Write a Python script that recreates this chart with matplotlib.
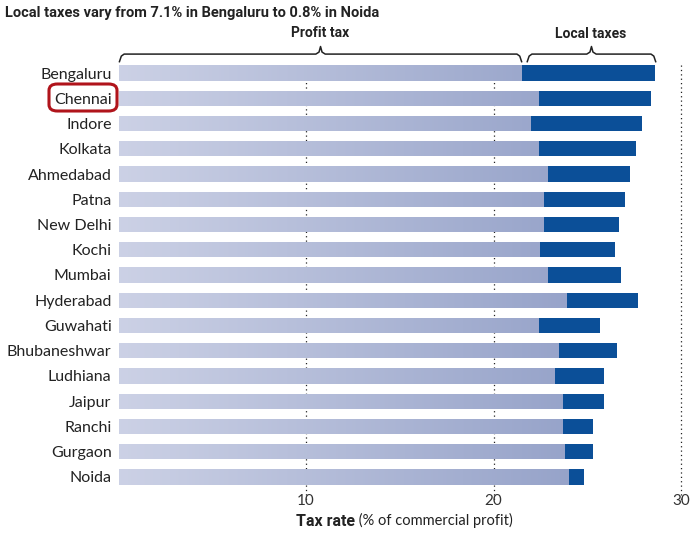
import matplotlib.pyplot as plt
import numpy as np
from matplotlib.patches import FancyBboxPatch

cities = ['Bengaluru', 'Chennai', 'Indore', 'Kolkata', 'Ahmedabad', 'Patna',
          'New Delhi', 'Kochi', 'Mumbai', 'Hyderabad', 'Guwahati', 'Bhubaneshwar',
          'Ludhiana', 'Jaipur', 'Ranchi', 'Gurgaon', 'Noida']
profit_tax = [21.5, 22.4, 22.0, 22.4, 22.9, 22.7, 22.7, 22.5, 22.9, 23.9,
              22.4, 23.5, 23.3, 23.7, 23.7, 23.8, 24.0]
local_tax = [7.1, 6.0, 5.9, 5.2, 4.4, 4.3, 4.0, 4.0, 3.9, 3.8,
             3.3, 3.1, 2.6, 2.2, 1.6, 1.5, 0.8]
xticks = [10, 20, 30]

fig = plt.figure(figsize=(6.96, 5.34), dpi=100)
W, H = 696, 534
ax = fig.add_axes([118.5 / W, 1 - 489.6 / H, (30.3 * 18.75) / W, (489.6 - 60.4) / H])

y = np.arange(len(cities))
light = np.array([0.80, 0.82, 0.90])
dark = np.array([0.59, 0.64, 0.79])
grad = np.linspace(0, 1, 256)
img = (light[None, :] * (1 - grad[:, None]) + dark[None, :] * grad[:, None])[None, :, :]

bars = ax.barh(y, profit_tax, height=0.6, color='none', edgecolor='none', zorder=2)
for b in bars:
    im = ax.imshow(img, extent=(0, 24, 16.5, -0.5), aspect='auto', zorder=2,
                   interpolation='bilinear')
    im.set_clip_path(b)
ax.barh(y, local_tax, left=profit_tax, height=0.6, color='#0b4f98', zorder=3)
ax.set_xlim(0, 30.3)
ax.set_ylim(16.5, -0.5)

for xv in xticks:
    ax.plot([xv, xv], [-0.3, 16.9], color='#222222', lw=0.9, ls=(0, (1, 2.5)),
            zorder=1, clip_on=False)

ax.set_yticks(y)
ax.set_yticklabels(cities, fontsize=11.5, color='#222222', family='Lato')
ax.set_xticks(xticks)
ax.set_xticklabels([str(v) for v in xticks], fontsize=11, color='#333333', family='Lato')
ax.tick_params(length=0, axis='y', pad=5)
ax.tick_params(length=0, axis='x', pad=3)
for s in ax.spines.values():
    s.set_visible(False)

# braces
def brace(x0, x1, yb):
    xm = (x0 + x1) / 2
    d = 0.25
    ax.plot([x0, x0 + 0.1, x0 + d, xm - d, xm - 0.08, xm, xm + 0.08, xm + d, x1 - d, x1 - 0.1, x1],
            [yb + 0.3, yb + 0.08, yb, yb, yb - 0.08, yb - 0.3, yb - 0.08, yb, yb, yb + 0.08, yb + 0.3],
            color='#222222', lw=1.1, clip_on=False)

brace(0.05, 21.5, -0.75)
brace(21.8, 28.65, -0.75)
ax.text(10.75, -1.3, 'Profit tax', ha='center', va='bottom', fontsize=10,
        fontweight='bold', family='Roboto', color='#222222')
ax.text(25.2, -1.25, 'Local taxes', ha='center', va='bottom', fontsize=10,
        fontweight='bold', family='Roboto', color='#222222')

fig.text(5 / W, 1 - 13 / H, 'Local taxes vary from 7.1% in Bengaluru to 0.8% in Noida',
         ha='left', va='center', fontsize=10.5, fontweight='bold',
         family='Roboto', color='#222222')

t1 = fig.text(296 / W, 1 - 521 / H, 'Tax rate', ha='left', va='center', fontsize=11.5,
              fontweight='bold', family='Roboto', color='#222222')
ax.annotate(' (% of commercial profit)', xy=(1, 0), xycoords=t1, ha='left', va='bottom',
            fontsize=10.5, family='Lato', color='#222222')

box = FancyBboxPatch((49 / W, 1 - 111 / H), 68 / W, 27 / H,
                     boxstyle='round,pad=0,rounding_size=0.012',
                     transform=fig.transFigure, fill=False, edgecolor='#b0141b', lw=2.2)
fig.patches.append(box)

fig.savefig('out.png', dpi=100)
